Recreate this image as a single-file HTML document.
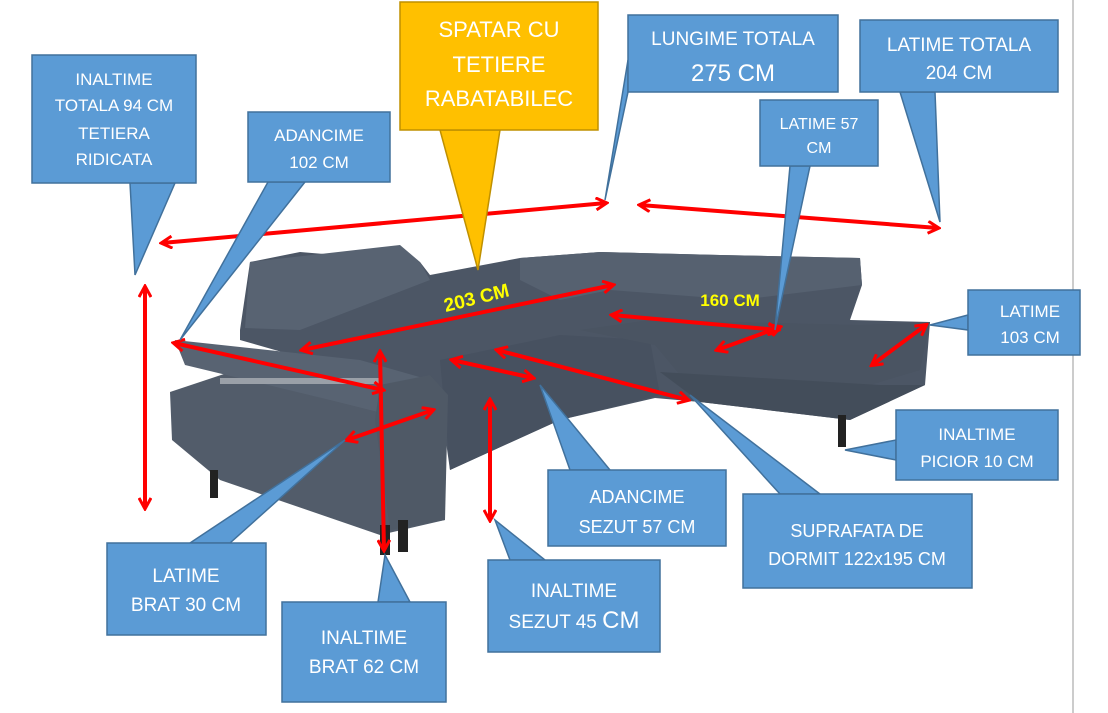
<!DOCTYPE html>
<html><head><meta charset="utf-8"><style>
html,body{margin:0;padding:0;background:#fff;}
svg{display:block;}
text{font-family:"Liberation Sans",sans-serif;fill:#fff;}
</style></head><body>
<svg width="1108" height="713" viewBox="0 0 1108 713" xmlns="http://www.w3.org/2000/svg">
<defs>
<marker id="ah" markerWidth="14" markerHeight="14" refX="11" refY="7" orient="auto-start-reverse" markerUnits="userSpaceOnUse">
<path d="M1,1 L12,7 L1,13" fill="none" stroke="#f00" stroke-width="3"/>
</marker>
</defs>
<rect width="1108" height="713" fill="#fff"/>
<line x1="1073" y1="0" x2="1073" y2="713" stroke="#999" stroke-width="1"/>

<g>
<polygon points="170,392 230,372 430,395 445,520 380,535 220,480 172,440" fill="#525c6a"/>
<polygon points="240,330 250,262 300,252 420,262 430,275 520,258 600,252 720,255 860,258 862,285 850,320 930,322 925,385 850,420 700,402 655,398 560,420 450,470 440,400 380,380 240,340" fill="#4c5665"/>
<polygon points="250,262 400,245 420,262 430,280 300,330 245,328" fill="#586372"/>
<polygon points="520,258 600,252 720,255 860,258 862,285 740,300 610,290 560,300 520,280" fill="#566170"/>
<polygon points="440,360 560,335 650,340 660,395 560,420 450,470" fill="#475160"/>
<polygon points="580,330 650,320 860,325 930,322 920,370 870,385 680,375 655,345" fill="#4a5462"/>
<polygon points="660,372 880,385 925,385 850,420 700,402" fill="#434d5a"/>
<polygon points="175,340 360,360 430,380 440,410 410,420 330,400 185,365" fill="#586372"/>
<polygon points="380,385 430,375 448,395 445,520 390,530 375,420" fill="#4f5966"/>
<rect x="210" y="470" width="8" height="28" fill="#222"/>
<rect x="380" y="525" width="10" height="30" fill="#222"/>
<rect x="398" y="520" width="10" height="32" fill="#222"/>
<rect x="838" y="415" width="8" height="32" fill="#222"/>
<rect x="220" y="378" width="160" height="6" fill="#9aa0a8"/>
</g>

<g stroke="#f00" stroke-width="4" fill="none" marker-start="url(#ah)" marker-end="url(#ah)">
<line x1="162" y1="243" x2="606" y2="203"/>
<line x1="640" y1="205" x2="938" y2="228"/>
<line x1="145" y1="287" x2="145" y2="508"/>
<line x1="174" y1="343" x2="383" y2="390"/>
<line x1="302" y1="350" x2="613" y2="285"/>
<line x1="612" y1="315" x2="778" y2="330"/>
<line x1="717" y1="350" x2="780" y2="327"/>
<line x1="872" y1="365" x2="926" y2="325"/>
<line x1="380" y1="352" x2="384" y2="550"/>
<line x1="490" y1="400" x2="490" y2="520"/>
<line x1="452" y1="360" x2="533" y2="378"/>
<line x1="497" y1="350" x2="688" y2="400"/>
<line x1="347" y1="440" x2="433" y2="410"/>
</g>
<text x="478" y="304" transform="rotate(-14 478 304)" style="fill:#ffff00;font-size:19px;font-weight:bold" text-anchor="middle">203 CM</text>
<text x="730" y="306" style="fill:#ffff00;font-size:17px;font-weight:bold" text-anchor="middle">160 CM</text>

<g stroke="#41719c" stroke-width="1.5" fill="#5b9bd5">
<polygon points="130,183 175,183 135,275"/><rect x="32" y="55" width="164" height="128"/>
<polygon points="268,182 305,182 180,340"/><rect x="248" y="112" width="142" height="70"/>
<polygon points="628,60 628,92 605,200"/><rect x="628" y="15" width="210" height="77"/>
<polygon points="900,92 935,92 940,222"/><rect x="860" y="20" width="198" height="72"/>
<polygon points="790,166 810,166 775,330"/><rect x="760" y="100" width="118" height="66"/>
<polygon points="968,315 968,330 930,325"/><rect x="968" y="290" width="112" height="65"/>
<polygon points="896,440 896,460 845,450"/><rect x="896" y="410" width="162" height="70"/>
<polygon points="780,494 820,494 690,395"/><rect x="743" y="494" width="229" height="94"/>
<polygon points="570,470 610,470 540,385"/><rect x="548" y="470" width="178" height="76"/>
<polygon points="510,560 545,560 495,520"/><rect x="488" y="560" width="172" height="92"/>
<polygon points="378,602 410,602 385,555"/><rect x="282" y="602" width="164" height="100"/>
<polygon points="190,543 230,543 345,440"/><rect x="107" y="543" width="159" height="92"/>
</g>
<g stroke="#bf9000" stroke-width="1.5" fill="#ffc000">
<polygon points="440,130 500,130 478,270"/><rect x="400" y="2" width="198" height="128"/>
</g>

<g text-anchor="middle" font-size="17">
<text x="114" y="85">INALTIME</text>
<text x="114" y="111">TOTALA 94 CM</text>
<text x="114" y="139">TETIERA</text>
<text x="114" y="165">RIDICATA</text>
<text x="319" y="141">ADANCIME</text>
<text x="319" y="168">102 CM</text>
<text x="499" y="37" font-size="22">SPATAR CU</text>
<text x="499" y="72" font-size="22">TETIERE</text>
<text x="499" y="106" font-size="22">RABATABILEC</text>
<text x="733" y="45" font-size="19">LUNGIME TOTALA</text>
<text x="733" y="81" font-size="24">275 CM</text>
<text x="959" y="51" font-size="19">LATIME TOTALA</text>
<text x="959" y="79" font-size="19">204 CM</text>
<text x="819" y="129" font-size="16">LATIME 57</text>
<text x="819" y="153" font-size="16">CM</text>
<text x="1030" y="317">LATIME</text>
<text x="1030" y="343">103 CM</text>
<text x="977" y="440">INALTIME</text>
<text x="977" y="467">PICIOR 10 CM</text>
<text x="857" y="537" font-size="18">SUPRAFATA DE</text>
<text x="857" y="565" font-size="18">DORMIT 122x195 CM</text>
<text x="637" y="503" font-size="18">ADANCIME</text>
<text x="637" y="533" font-size="18">SEZUT 57 CM</text>
<text x="574" y="597" font-size="19">INALTIME</text>
<text x="574" y="628" font-size="19">SEZUT 45 <tspan font-size="24">CM</tspan></text>
<text x="364" y="644" font-size="19">INALTIME</text>
<text x="364" y="673" font-size="19">BRAT 62 CM</text>
<text x="186" y="582" font-size="19">LATIME</text>
<text x="186" y="611" font-size="19">BRAT 30 CM</text>
</g>
</svg>
</body></html>
